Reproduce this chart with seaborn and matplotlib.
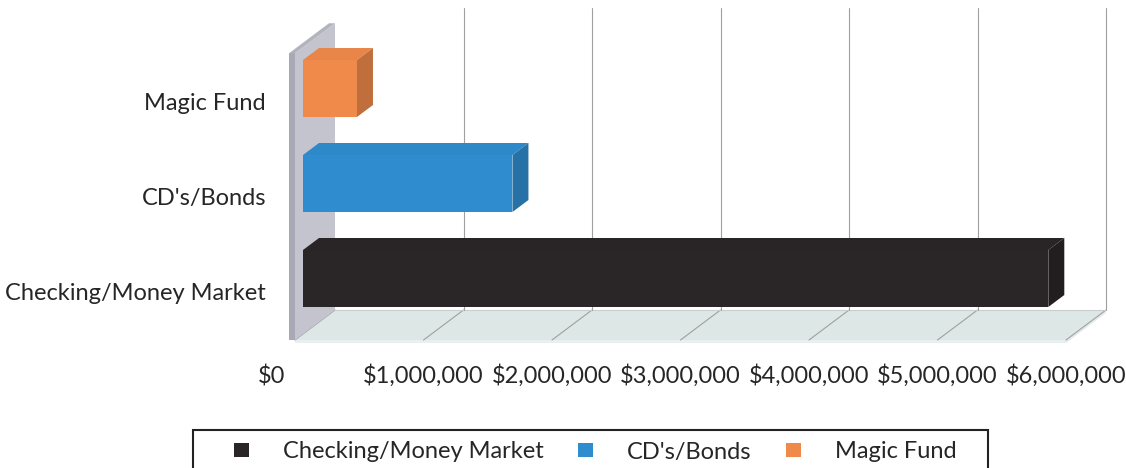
import numpy as np
import pandas as pd
import matplotlib
matplotlib.use("Agg")
import matplotlib.pyplot as plt
import matplotlib.colors as mcolors
from matplotlib.patches import Polygon, Patch, Rectangle
from matplotlib.lines import Line2D
from matplotlib.transforms import IdentityTransform
import seaborn as sns

# ---------------- data ----------------
categories = ["Checking/Money Market", "CD's/Bonds", "Magic Fund"]
values = [5_800_000, 1_630_000, 420_000]
colors = ["#2a2627", "#2f8dcf", "#ef8a4b"]
tick_values = [0, 1_000_000, 2_000_000, 3_000_000, 4_000_000, 5_000_000, 6_000_000]
tick_labels = ["$0", "$1,000,000", "$2,000,000", "$3,000,000", "$4,000,000", "$5,000,000", "$6,000,000"]

# ---------------- style ----------------
sns.set_theme(style="white")
plt.rcParams["font.family"] = ["Lato", "DejaVu Sans"]
FS = 17
TXT = "#262626"

W, H = 1126, 468
fig = plt.figure(figsize=(W / 100, H / 100), dpi=100)
fig.patch.set_facecolor("white")

ax_l, ax_r = 303, 303 + 6 * 128.5
ax_t, ax_b = 10, 334
ax = fig.add_axes([ax_l / W, (H - ax_b) / H, (ax_r - ax_l) / W, (ax_b - ax_t) / H])

df = pd.DataFrame({"category": categories, "value": values})
order = categories[::-1]
sns.barplot(data=df, x="value", y="category", hue="category", order=order,
            hue_order=categories, palette=colors, width=0.6, orient="h",
            saturation=1, legend=False, ax=ax, linewidth=0, zorder=3)
ax.set_xlim(tick_values[0], tick_values[-1])
ax.set_ylim((ax_b - 88.5) / 95, (ax_t - 88.5) / 95)
ax.axis("off")

# depth vector (display px per unit depth)
DX, DY = 40.0, 30.0
FRONT, BACK, BAR_BACK = -0.2, 0.8, 0.4


def pa(xd, ya, d):
    """x in data, y in axes fraction, depth d -> display px"""
    px = ax.transData.transform((xd, 0))[0]
    py = ax.transAxes.transform((0, ya))[1]
    return (px + DX * d, py + DY * d)


def pd_(xd, yd, d):
    px, py = ax.transData.transform((xd, yd))
    return (px + DX * d, py + DY * d)


def poly(pts, fc, z, ec="none", lw=0):
    p = Polygon(pts, closed=True, facecolor=fc, edgecolor=ec, linewidth=lw,
                transform=IdentityTransform(), zorder=z, clip_on=False)
    ax.add_artist(p)


def line(p0, p1, c, lw, z):
    l = Line2D([p0[0], p1[0]], [p0[1], p1[1]], color=c, linewidth=lw,
               transform=IdentityTransform(), zorder=z, clip_on=False)
    ax.add_artist(l)


xmin, xmax = tick_values[0], tick_values[-1]
# floor
poly([pa(xmin, 0, FRONT), pa(xmax, 0, FRONT), pa(xmax, 0, BACK), pa(xmin, 0, BACK)],
     "#dde7e5", 0.5)
# floor front slab
f0, f1 = pa(xmin, 0, FRONT), pa(xmax, 0, FRONT)
b1 = pa(xmax, 0, BACK)
poly([f0, f1, (f1[0], f1[1] - 3), (f0[0], f0[1] - 3)], "#e9efee", 0.55)
poly([f1, b1, (b1[0], b1[1] - 3), (f1[0], f1[1] - 3)], "#e3eae9", 0.55)
# floor grid lines
for v in tick_values:
    line(pa(v, 0, FRONT), pa(v, 0, BACK), "#a0a0a0", 0.8, 0.6)
line(pa(xmax, 0, BACK), pa(xmin, 0, BACK), "#c8cfce", 0.8, 0.6)
# back wall grid lines
for v in tick_values[1:]:
    line(pa(v, 0, BACK), pa(v, 0.932, BACK), "#a0a0a0", 0.8, 0.6)

# side wall
wf_b, wb_b = pa(xmin, 0, FRONT), pa(xmin, 0, BACK)
wb_t, wf_t = pa(xmin, 0.885, BACK), pa(xmin, 0.885, FRONT)
poly([wf_b, wb_b, wb_t, wf_t], "#c4c4ce", 0.7)
poly([(wf_b[0] - 6, wf_b[1]), wf_b, wf_t, (wf_t[0] - 6, wf_t[1])], "#a9a9b5", 0.71)
poly([(wf_t[0] - 6, wf_t[1]), wf_t, wb_t, (wb_t[0] - 6, wb_t[1])], "#b3b3be", 0.71)


def shade(c, f):
    r, g, b = mcolors.to_rgb(c)
    return (r * f, g * f, b * f)


# 3D faces of bars
for bar in ax.patches:
    if not hasattr(bar, "get_width"):
        continue
    x0, w = bar.get_x(), bar.get_width()
    y0, h = bar.get_y(), bar.get_height()
    ytop, ybot = min(y0, y0 + h), max(y0, y0 + h)
    x1 = x0 + w
    fc = bar.get_facecolor()
    poly([pd_(x0, ytop, 0), pd_(x1, ytop, 0), pd_(x1, ytop, BAR_BACK), pd_(x0, ytop, BAR_BACK)],
         shade(fc, 0.97), 3.1)
    poly([pd_(x1, ytop, 0), pd_(x1, ybot, 0), pd_(x1, ybot, BAR_BACK), pd_(x1, ytop, BAR_BACK)],
         shade(fc, 0.8), 3.1)

# category labels
for j, cat in enumerate(order):
    ax.annotate(cat, xy=(0, j), xycoords="data", xytext=(-37, -15),
                textcoords="offset pixels", ha="right", va="center",
                fontsize=FS, color=TXT, annotation_clip=False)

# value axis labels
for v, lab in zip(tick_values, tick_labels):
    if v == tick_values[0]:
        ax.annotate(lab, xy=(v, 0), xycoords=("data", "axes fraction"),
                    xytext=(-18, -42), textcoords="offset pixels",
                    ha="right", va="center", fontsize=FS, color=TXT,
                    annotation_clip=False)
    else:
        ax.annotate(lab, xy=(v, 0), xycoords=("data", "axes fraction"),
                    xytext=(-8, -42), textcoords="offset pixels",
                    ha="center", va="center", fontsize=FS, color=TXT,
                    annotation_clip=False)

# legend box (frame extends past the bottom edge as in the reference)
fig.add_artist(Rectangle((193 / W, -0.05), (988 - 193) / W, 0.05 + (H - 430) / H,
                         transform=fig.transFigure, facecolor="white",
                         edgecolor="#222222", linewidth=1.5, zorder=5))
handles = [Patch(facecolor=c, edgecolor="none") for c in colors]
leg = fig.legend(handles, categories, loc="center left",
                 bbox_to_anchor=(234 / W, 1 - 452 / H), ncol=3,
                 frameon=False, fontsize=FS, handlelength=0.63, handleheight=0.55,
                 handletextpad=1.45, columnspacing=1.45, borderpad=0,
                 borderaxespad=0)
leg.set_zorder(6)
for t in leg.get_texts():
    t.set_color(TXT)

fig.savefig("out.png", dpi=100)
